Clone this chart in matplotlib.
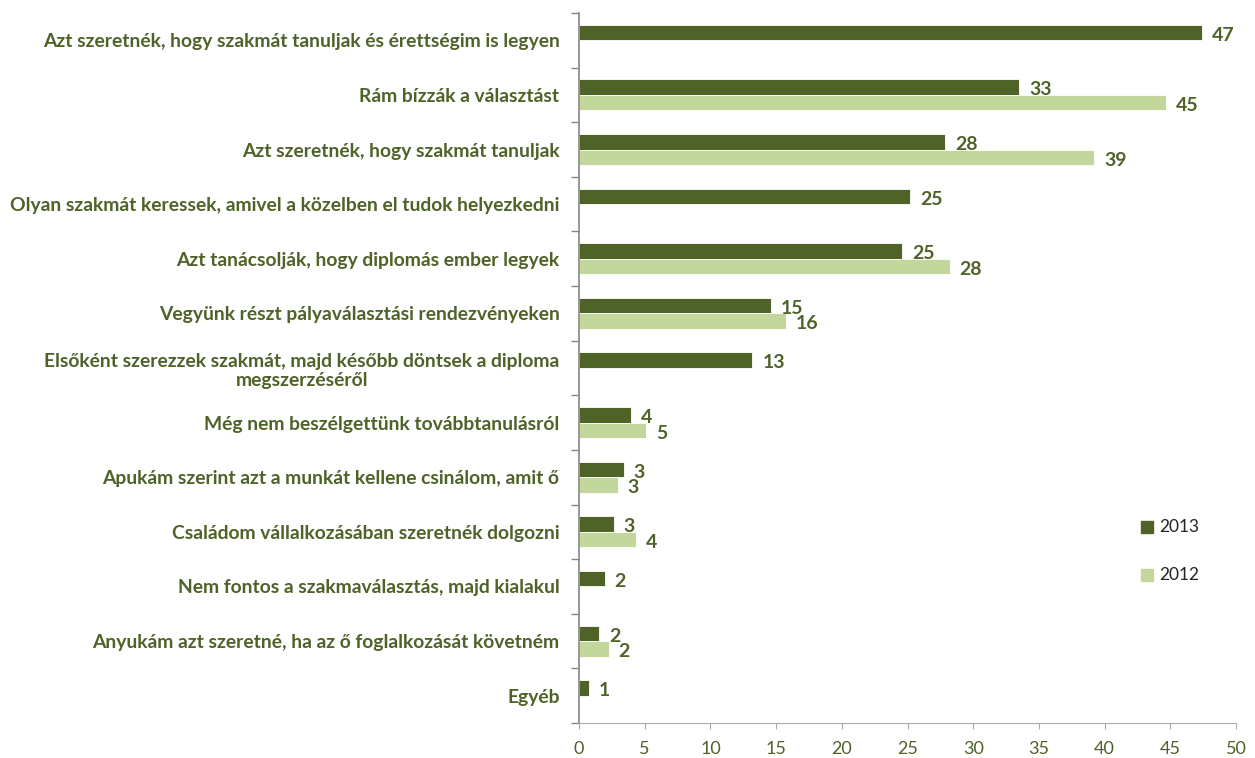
import matplotlib.pyplot as plt
import numpy as np

categories = [
    "Azt szeretnék, hogy szakmát tanuljak és érettségim is legyen",
    "Rám bízzák a választást",
    "Azt szeretnék, hogy szakmát tanuljak",
    "Olyan szakmát keressek, amivel a közelben el tudok helyezkedni",
    "Azt tanácsolják, hogy diplomás ember legyek",
    "Vegyünk részt pályaválasztási rendezvényeken",
    "Elsőként szerezzek szakmát, majd később döntsek a diploma\nmegszerzéséről",
    "Még nem beszélgettünk továbbtanulásról",
    "Apukám szerint azt a munkát kellene csinálom, amit ő",
    "Családom vállalkozásában szeretnék dolgozni",
    "Nem fontos a szakmaválasztás, majd kialakul",
    "Anyukám azt szeretné, ha az ő foglalkozását követném",
    "Egyéb",
]
# None = no answer in that year
v2013 = [47.4, 33.5, 27.85, 25.2, 24.6, 14.6, 13.2, 3.95, 3.4, 2.65, 1.97, 1.55, 0.78]
v2012 = [None, 44.7, 39.2, None, 28.2, 15.75, None, 5.13, 2.95, 4.34, None, 2.27, None]
labels2013 = ["47", "33", "28", "25", "25", "15", "13", "4", "3", "3", "2", "2", "1"]
labels2012 = [None, "45", "39", None, "28", "16", None, "5", "3", "4", None, "2", None]

dark = "#4F6228"
light = "#C3D69B"
plt.rcParams['font.family'] = ['Lato', 'DejaVu Sans']

fig = plt.figure(figsize=(12.55, 7.58), dpi=100)
ax = fig.add_axes([579 / 1255, 35 / 758, 657 / 1255, 710 / 758])

n = len(categories)
y = np.arange(n)
h = 0.285

for i in range(n):
    ax.barh(y[i] - h / 2, v2013[i], height=h, color=dark, edgecolor="white", linewidth=0.6)
    ax.text(v2013[i] + 0.75, y[i] - h / 2 + 0.05, labels2013[i], va="center", ha="left",
            color=dark, fontsize=14, fontweight="bold")
    if v2012[i] is not None:
        ax.barh(y[i] + h / 2, v2012[i], height=h, color=light, edgecolor="white", linewidth=0.6)
        ax.text(v2012[i] + 0.75, y[i] + h / 2 + 0.05, labels2012[i], va="center", ha="left",
                color=dark, fontsize=14, fontweight="bold")

ax.set_xlim(0, 50)
ax.set_ylim(n - 0.5, -0.5)
ax.set_xticks(np.arange(0, 51, 5))
ax.tick_params(axis="x", colors="#aaaaaa", labelcolor=dark, labelsize=13, length=4,
               width=0.8, pad=9)

ax.set_yticks(y)
ax.set_yticklabels(categories, fontsize=13.9, fontweight="bold", color=dark,
                   multialignment="center")
ax.tick_params(axis="y", length=0, pad=14)
ax.set_yticks(np.arange(-0.5, n, 1), minor=True)
ax.tick_params(axis="y", which="minor", length=6, color="#868686", width=1)

for s in ["top", "right"]:
    ax.spines[s].set_visible(False)
ax.spines["left"].set_color("#868686")
ax.spines["left"].set_linewidth(1.2)
ax.spines["bottom"].set_color("#aaaaaa")
ax.spines["bottom"].set_linestyle((0, (1, 1)))

# legend
lx, ly = 1141 / 1255, 758 - 527
fig.patches.append(plt.Rectangle((lx, (ly - 6) / 758), 12 / 1255, 12 / 758,
                                 transform=fig.transFigure, color=dark))
fig.text(lx + 18 / 1255, ly / 758, "2013", va="center", fontsize=12.5, color="#222222")
ly2 = 758 - 575
fig.patches.append(plt.Rectangle((lx, (ly2 - 6) / 758), 12 / 1255, 12 / 758,
                                 transform=fig.transFigure, color=light))
fig.text(lx + 18 / 1255, ly2 / 758, "2012", va="center", fontsize=12.5, color="#222222")

fig.savefig("out.png", dpi=100)
